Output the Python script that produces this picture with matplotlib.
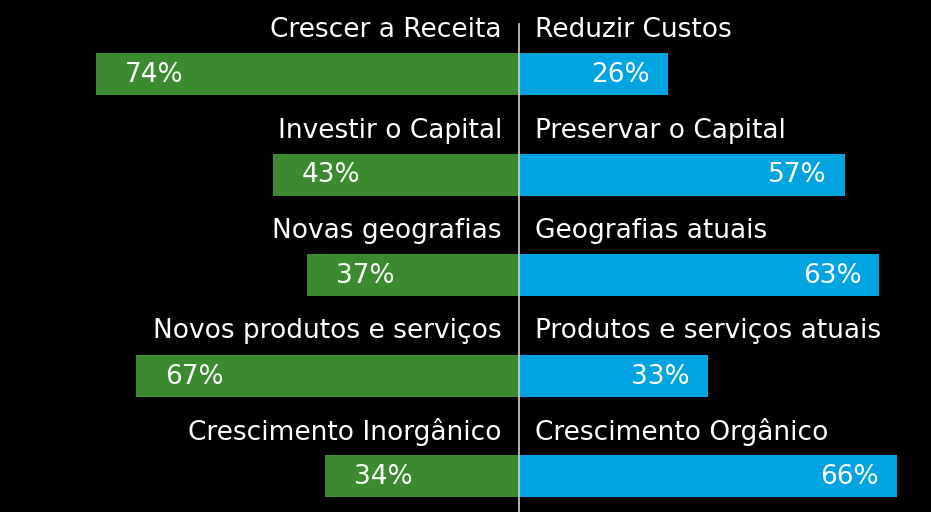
import matplotlib
matplotlib.use("Agg")
import matplotlib.pyplot as plt

left_labels = ["Crescer a Receita", "Investir o Capital", "Novas geografias",
               "Novos produtos e serviços", "Crescimento Inorgânico"]
right_labels = ["Reduzir Custos", "Preservar o Capital", "Geografias atuais",
                "Produtos e serviços atuais", "Crescimento Orgânico"]
left_values = [74, 43, 37, 67, 34]
right_values = [26, 57, 63, 33, 66]

GREEN = "#3c8a30"
BLUE = "#00a4e0"

fig = plt.figure(figsize=(9.31, 5.12), dpi=100, facecolor="black")
ax = fig.add_axes([0, 0, 1, 1])
ax.set_facecolor("black")

px = 5.72   # pixels per percent
row = 100.5  # pixels per row
ax.set_xlim(-519 / px, (931 - 519) / px)
ax.set_ylim((512 - 74) / row, -74 / row)
ax.axis("off")

ys = list(range(len(left_values)))
h = 42 / row
ax.barh(ys, [-v for v in left_values], height=h, color=GREEN, zorder=2)
ax.barh(ys, right_values, height=h, color=BLUE, zorder=2)

ax.plot([0, 0], [(24 - 74) / row, (512 - 74) / row], color="#d0d0d0", lw=1.2, zorder=3)

fs = 19
for y, lab, v in zip(ys, left_labels, left_values):
    ax.text(-17 / px, y - 44 / row, lab, ha="right", va="center", color="white", fontsize=fs)
    ax.text(-v + 29 / px, y + 1 / row, f"{v}%", ha="left", va="center", color="white", fontsize=fs)
for y, lab, v in zip(ys, right_labels, right_values):
    ax.text(16 / px, y - 44 / row, lab, ha="left", va="center", color="white", fontsize=fs)
    ax.text(v - 18 / px, y + 1 / row, f"{v}%", ha="right", va="center", color="white", fontsize=fs)

fig.savefig("out.png", dpi=100, facecolor="black")
